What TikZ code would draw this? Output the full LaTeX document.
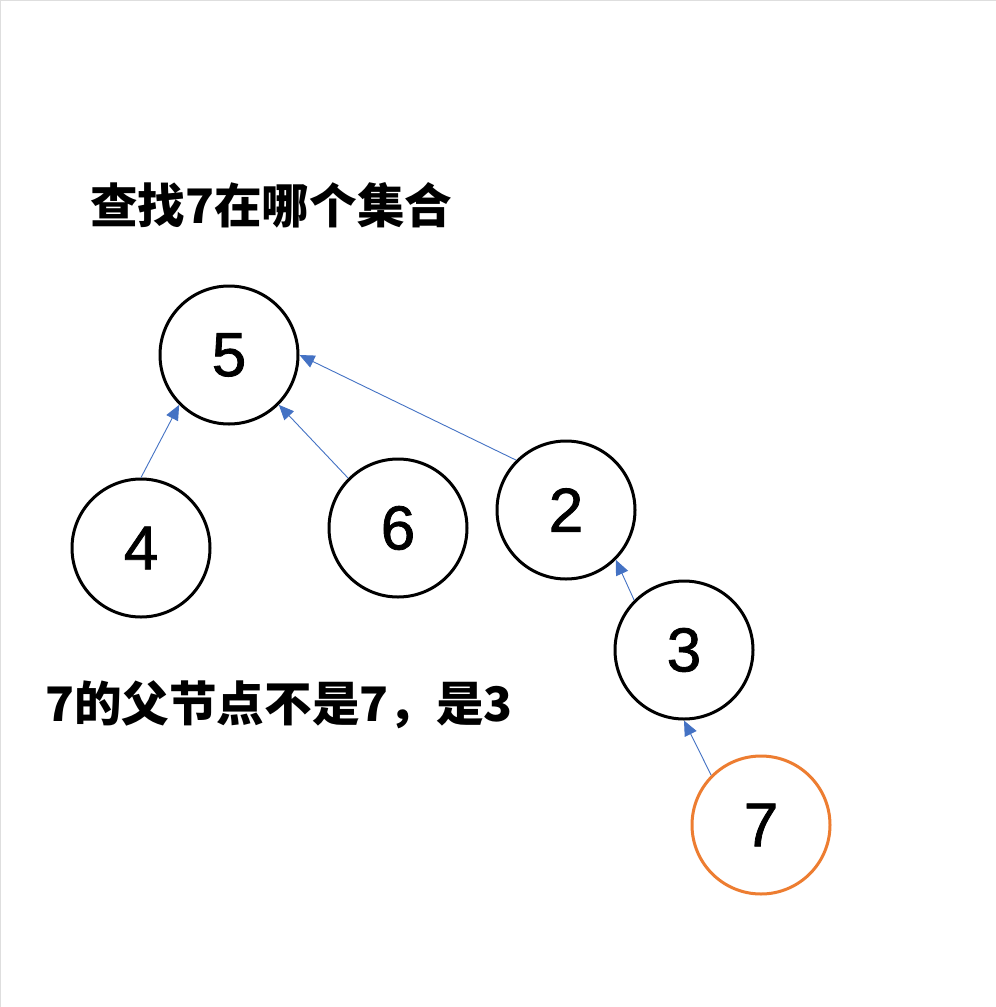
\documentclass[tikz,border=0pt]{standalone}
\usepackage{fontspec}
\setmainfont{Liberation Sans}
\newfontfamily\digitfont[FakeBold=1.3]{Liberation Sans}
\newfontfamily\cjk{Noto Sans CJK SC}
\usetikzlibrary{arrows.meta}
\definecolor{linkblue}{HTML}{4472C4}
\definecolor{hiorange}{HTML}{ED7D31}
\tikzset{
  setnode/.style={circle, draw=black, line width=3pt, minimum size=138pt, inner sep=0pt,
    font=\digitfont\fontsize{62}{64}\selectfont},
  hinode/.style={setnode, draw=hiorange},
  link/.style={draw=linkblue, line width=0.9pt, -{Triangle[length=15pt,width=13pt]}},
  caption/.style={anchor=west, inner sep=0pt, font=\cjk\bfseries\fontsize{47.6}{50}\selectfont}
}
\begin{document}
\begin{tikzpicture}[x=1pt,y=-1pt]
\useasboundingbox (0,0) rectangle (996,1007);
\fill[white] (0,0) rectangle (996,1007);
\draw[black!13, line width=1.2pt] (0.6,1007) -- (0.6,0.6) -- (996,0.6);
\node[caption] (title) at (90,205) {查找7在哪个集合};
\node[caption] (note) at (45,705) {7的父节点不是7，是3};
\node[setnode] (n5) at (229,355) {5};
\node[setnode] (n4) at (141,548) {4};
\node[setnode] (n6) at (398,528) {6};
\node[setnode] (n2) at (566,510) {2};
\node[setnode] (n3) at (684,650) {3};
\node[hinode] (n7) at (761,825) {7};
\draw[link] (n4.north) -- (n5.south west);
\draw[link] (n6.north west) -- (n5.south east);
\draw[link] (n2.north west) -- (n5.east);
\draw[link] (n3.north west) -- (n2.south east);
\draw[link] (n7.north west) -- (n3.south);
\end{tikzpicture}
\end{document}
